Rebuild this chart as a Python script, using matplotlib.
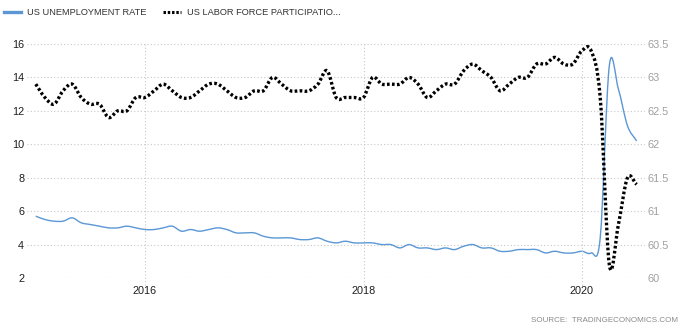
import numpy as np
import pandas as pd
import matplotlib
matplotlib.use("Agg")
import matplotlib.pyplot as plt
from matplotlib.path import Path
from matplotlib.patches import PathPatch
from matplotlib.lines import Line2D

plt.rcParams["font.family"] = ["Liberation Sans", "DejaVu Sans"]

# monthly data, Jan 2015 - Jul 2020
months = pd.date_range("2015-01-01", "2020-07-01", freq="MS")

unemployment = [
    5.7, 5.5, 5.4, 5.4, 5.6, 5.3, 5.2, 5.1, 5.0, 5.0, 5.1, 5.0,  # 2015
    4.9, 4.9, 5.0, 5.1, 4.8, 4.9, 4.8, 4.9, 5.0, 4.9, 4.7, 4.7,  # 2016
    4.7, 4.5, 4.4, 4.4, 4.4, 4.3, 4.3, 4.4, 4.2, 4.1, 4.2, 4.1,  # 2017
    4.1, 4.1, 4.0, 4.0, 3.8, 4.0, 3.8, 3.8, 3.7, 3.8, 3.7, 3.9,  # 2018
    4.0, 3.8, 3.8, 3.6, 3.6, 3.7, 3.7, 3.7, 3.5, 3.6, 3.5, 3.5,  # 2019
    3.6, 3.5, 4.4, 14.7, 13.3, 11.1, 10.2,                       # 2020
]

participation = [
    62.9, 62.7, 62.6, 62.8, 62.9, 62.7, 62.6, 62.6, 62.4, 62.5, 62.5, 62.7,  # 2015
    62.7, 62.8, 62.9, 62.8, 62.7, 62.7, 62.8, 62.9, 62.9, 62.8, 62.7, 62.7,  # 2016
    62.8, 62.8, 63.0, 62.9, 62.8, 62.8, 62.8, 62.9, 63.1, 62.7, 62.7, 62.7,  # 2017
    62.7, 63.0, 62.9, 62.9, 62.9, 63.0, 62.9, 62.7, 62.8, 62.9, 62.9, 63.1,  # 2018
    63.2, 63.1, 63.0, 62.8, 62.9, 63.0, 63.0, 63.2, 63.2, 63.3, 63.2, 63.2,  # 2019
    63.4, 63.4, 62.7, 60.2, 60.8, 61.5, 61.4,                                # 2020
]

left_ticks = [2, 4, 6, 8, 10, 12, 14, 16]
right_ticks = [60, 60.5, 61, 61.5, 62, 62.5, 63, 63.5]
year_ticks = [2016, 2018, 2020]

label_unemp = "US UNEMPLOYMENT RATE"
label_part = "US LABOR FORCE PARTICIPATIO..."
source_text = "SOURCE:  TRADINGECONOMICS.COM"


def spline_path(x, y):
    """smooth curve through the points (catmull-rom as bezier segments)"""
    x = np.asarray(x, float)
    y = np.asarray(y, float)
    pts = np.column_stack([x, y])
    padded = np.vstack([2 * pts[0] - pts[1], pts, 2 * pts[-1] - pts[-2]])
    verts = [tuple(pts[0])]
    codes = [Path.MOVETO]
    for i in range(len(pts) - 1):
        p0, p1, p2, p3 = padded[i], padded[i + 1], padded[i + 2], padded[i + 3]
        c1 = p1 + (p2 - p0) / 6
        c2 = p2 - (p3 - p1) / 6
        verts += [tuple(c1), tuple(c2), tuple(p2)]
        codes += [Path.CURVE4] * 3
    return Path(verts, codes)


x_years = months.year + (months.month - 1) / 12

fig = plt.figure(figsize=(6.8, 3.32), dpi=100)
ax = fig.add_axes([27 / 680, 1 - 278 / 332, 618 / 680, 234 / 332])
ax2 = ax.twinx()

blue = "#5b97d5"
ax.add_patch(
    PathPatch(spline_path(x_years, unemployment), fill=False, edgecolor=blue, lw=1.0)
)
ax2.add_patch(
    PathPatch(
        spline_path(x_years, participation),
        fill=False,
        edgecolor="black",
        lw=2.4,
        linestyle=(0, (0.8, 0.7)),
        capstyle="butt",
    )
)

ax.set_xlim(2016 - 118 / 109.25, 2020 + 63 / 109.25)
ax.set_ylim(2, 16)
ax2.set_ylim(60, 63.5)

ax.set_yticks(left_ticks)
ax.set_yticklabels([str(t) for t in left_ticks])
ax2.set_yticks(right_ticks)
ax2.set_yticklabels([f"{t:g}" for t in right_ticks])
ax.set_xticks(year_ticks)
ax.set_xticklabels([str(t) for t in year_ticks])

ax.tick_params(axis="y", length=0, pad=2, labelsize=7.8, labelcolor="#1e1e1e")
ax2.tick_params(axis="y", length=0, pad=2, labelsize=7.9, labelcolor="#a0a0a0")
ax.tick_params(axis="x", length=0, pad=6, labelsize=7.8, labelcolor="#1e1e1e")

grid_style = dict(color="#c8c8c8", lw=0.8, linestyle=(0, (1, 2)))
ax.grid(axis="y", **grid_style)
for yr in year_ticks:
    ax.axvline(yr, ymin=-7 / 234, ymax=1, clip_on=False, **grid_style)

for a in (ax, ax2):
    for s in a.spines.values():
        s.set_visible(False)
ax.set_axisbelow(True)

handles = [
    Line2D([], [], color=blue, lw=2.4),
    Line2D([], [], color="black", lw=2.2, linestyle=(0, (0.8, 0.6))),
]
fig.legend(
    handles,
    [label_unemp, label_part],
    loc="upper left",
    bbox_to_anchor=(4 / 680, 1 - 8 / 332),
    ncol=2,
    frameon=False,
    fontsize=6.7,
    labelcolor="#333333",
    handlelength=1.85,
    handletextpad=0.65,
    columnspacing=1.8,
    borderpad=0,
    borderaxespad=0,
)

fig.text(
    678 / 680, 1 - 321 / 332, source_text,
    ha="right", va="center", fontsize=5.8, color="#8a8a8a",
)

fig.savefig("out.png", dpi=100)
